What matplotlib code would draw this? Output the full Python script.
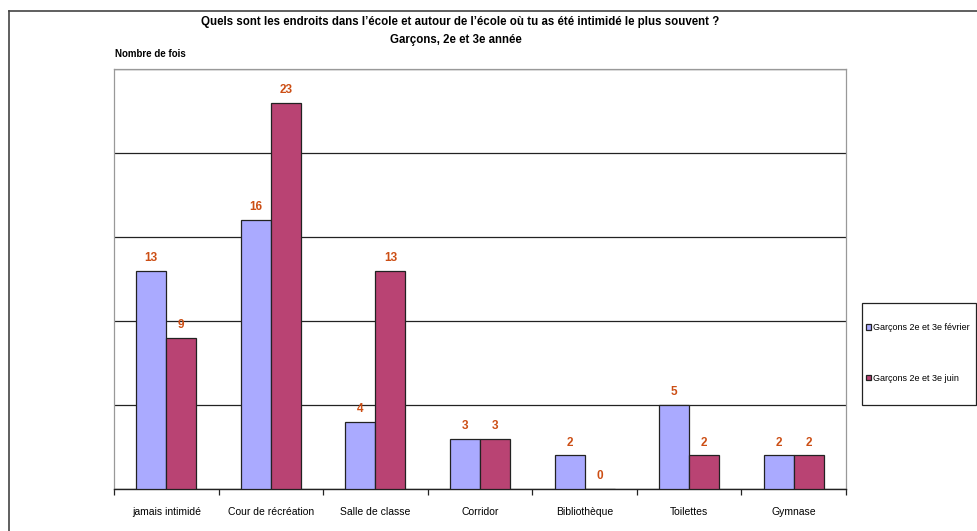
import matplotlib
matplotlib.use("Agg")
import matplotlib.pyplot as plt
from matplotlib.lines import Line2D
from matplotlib.patches import Rectangle
import numpy as np

categories = ["jamais intimidé", "Cour de récréation", "Salle de classe", "Corridor",
              "Bibliothèque", "Toilettes", "Gymnase"]
fevrier = [13, 16, 4, 3, 2, 5, 2]
juin = [9, 23, 13, 3, 0, 2, 2]
series_names = ["Garçons 2e et 3e février", "Garçons 2e et 3e juin"]

plt.rcParams['font.family'] = ['Liberation Sans', 'DejaVu Sans']

fig = plt.figure(figsize=(9.78, 5.31), dpi=100)
ax = fig.add_axes([114/978, 42/531, 732/978, 420/531])

x = np.arange(len(categories))
w = 0.287
c1, c2 = "#AAAAFF", "#B94373"
b1 = ax.bar(x - w/2, fevrier, w, color=c1, edgecolor="#222222", linewidth=0.9, label=series_names[0], zorder=3)
b2 = ax.bar(x + w/2, juin, w, color=c2, edgecolor="#222222", linewidth=0.9, label=series_names[1], zorder=3)

lc = "#CC4E14"
for xi, v in zip(x - w/2, fevrier):
    ax.text(xi, v + 0.4, str(v), ha="center", va="bottom", color=lc, fontsize=8.5, fontweight="bold")
for xi, v in zip(x + w/2, juin):
    ax.text(xi, v + 0.4, str(v), ha="center", va="bottom", color=lc, fontsize=8.5, fontweight="bold")

ax.set_xlim(-0.5, len(categories) - 0.5)
ax.set_ylim(0, 25)
ax.set_yticks([0, 5, 10, 15, 20, 25])
ax.yaxis.grid(True, color="#222222", linewidth=0.9, zorder=0)
ax.tick_params(axis="y", left=False, labelleft=False)
ax.set_xticks(x)
ax.set_xticklabels(categories, fontsize=7.5)
ax.set_xticks(np.arange(-0.5, len(categories)), minor=True)
ax.tick_params(axis="x", which="major", length=0, pad=13)
ax.tick_params(axis="x", which="minor", length=4, width=0.9, color="#222222", direction="out")
for s in ["left", "top", "right"]:
    ax.spines[s].set_color("#999999")
    ax.spines[s].set_linewidth(0.9)
ax.spines["bottom"].set_color("#222222")
ax.spines["bottom"].set_linewidth(1.0)

fig.text(460/978, 1 - 22/531, "Quels sont les endroits dans l’école et autour de l’école où tu as été intimidé le plus souvent ?",
         ha="center", va="center", fontsize=8.3, fontweight="bold")
fig.text(456/978, 1 - 40/531, "Garçons, 2e et 3e année", ha="center", va="center", fontsize=8.3, fontweight="bold")
fig.text(115/978, 1 - 54/531, "Nombre de fois", ha="left", va="center", fontsize=7, fontweight="bold")

# outer border (left and top)
fig.add_artist(Line2D([9/978, 9/978], [0, 1 - 11/531], transform=fig.transFigure, color="#444444", linewidth=1.2))
fig.add_artist(Line2D([9/978, 1], [1 - 11/531, 1 - 11/531], transform=fig.transFigure, color="#444444", linewidth=1.2))

# legend frame
fig.add_artist(Rectangle((862/978, 126/531), 114/978, 102/531, transform=fig.transFigure,
                         facecolor="white", edgecolor="#222222", linewidth=0.9, zorder=1))
leg = fig.legend(handles=[b1, b2], labels=series_names, loc="center left",
                 bbox_to_anchor=(866/978, 178/531),
                 fontsize=6.5, handlelength=0.6, handleheight=0.6, handletextpad=0.2,
                 labelspacing=4.6, borderpad=0, borderaxespad=0, frameon=False)
leg.set_zorder(2)

fig.savefig("out.png", dpi=100)
